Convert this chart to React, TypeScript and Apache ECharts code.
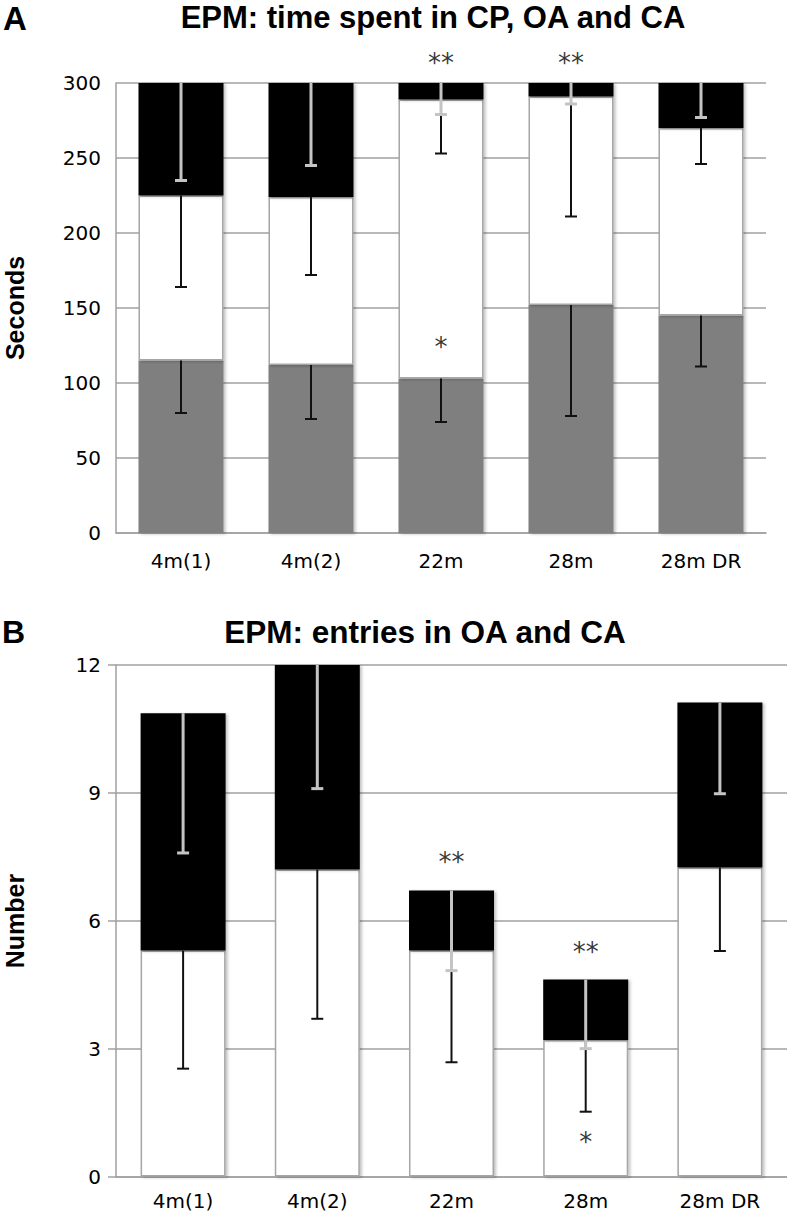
import React, { useEffect, useRef } from "react";
import * as echarts from "echarts";

// ---- data ----
const categories = ["4m(1)", "4m(2)", "22m", "28m", "28m DR"];

// Panel A: time spent (seconds), stacked CP (grey), OA (white), CA (black)
const timeCP = [115, 112, 103, 152, 145];
const timeOA = [110, 112, 186, 139, 125];
const timeCA = [75, 76, 11, 9, 30];
const timeErrCP = [35, 36, 29, 74, 34];
const timeErrOA = [61, 52, 36, 80, 24];
const timeErrCA = [65, 55, 21, 14, 23];
const secondsAxis = { min: 0, max: 300, step: 50 };

// Panel B: entries (number), stacked OA (white), CA (black)
const entryOA = [5.3, 7.2, 5.3, 3.2, 7.25];
const entryCA = [5.57, 4.8, 1.41, 1.42, 3.87];
const entryErrOA = [2.77, 3.5, 2.62, 1.68, 1.96];
const entryErrCA = [3.28, 2.9, 1.88, 1.62, 2.14];
const numberAxis = { min: 0, max: 12, step: 3 };

// significance marks
const starCatsA = ["22m", "28m", "22m"];
const starValsA = [316.8, 316.8, 127.4];
const starTextA = ["**", "**", "*"];
const starCatsB = ["22m", "28m", "28m"];
const starValsB = [7.5, 5.38, 0.93];
const starTextB = ["**", "**", "*"];

const GRID = "#a0a0a0";
const TICK_FONT = "DejaVu Sans";
const TITLE_FONT = "Liberation Sans";

function errData(bases: number[][], err: number[]) {
  return err.map((e, i) => {
    const top = bases.reduce((s, arr) => s + arr[i], 0);
    return [i, top, top - e];
  });
}

function errSeries(
  data: number[][],
  xi: number,
  color: string,
  width: number,
  z: number
) {
  return {
    type: "custom",
    xAxisIndex: xi,
    yAxisIndex: xi,
    z,
    silent: true,
    clip: false,
    data,
    renderItem: (params: any, api: any) => {
      const x = api.value(0);
      const hi = api.value(1);
      const lo = api.value(2);
      const p1 = api.coord([x, hi]);
      const p2 = api.coord([x, lo]);
      const half = 6;
      return {
        type: "group",
        children: [
          {
            type: "line",
            shape: { x1: p1[0], y1: p1[1], x2: p2[0], y2: p2[1] },
            style: { stroke: color, lineWidth: width },
          },
          {
            type: "line",
            shape: { x1: p2[0] - half, y1: p2[1], x2: p2[0] + half, y2: p2[1] },
            style: { stroke: color, lineWidth: width },
          },
        ],
      };
    },
  };
}

function starSeries(cats: string[], vals: number[], texts: string[], xi: number) {
  return {
    type: "scatter",
    xAxisIndex: xi,
    yAxisIndex: xi,
    symbolSize: 1,
    itemStyle: { color: "rgba(0,0,0,0)" },
    clip: false,
    silent: true,
    z: 10,
    data: cats.map((c, i) => [c, vals[i]]),
    label: {
      show: true,
      position: "inside",
      offset: [0, 5],
      formatter: (p: any) => texts[p.dataIndex],
      fontFamily: TICK_FONT,
      fontSize: 26,
      color: "#000",
    },
  };
}

const shadow = {
  shadowColor: "rgba(0,0,0,0.25)",
  shadowBlur: 3,
  shadowOffsetX: 2,
  shadowOffsetY: 1,
};

function barSeries(data: number[], xi: number, color: string, border: boolean) {
  return {
    type: "bar",
    xAxisIndex: xi,
    yAxisIndex: xi,
    stack: "s" + xi,
    barWidth: 85,
    data,
    z: 2,
    silent: true,
    itemStyle: {
      color,
      borderColor: border ? "#a6a6a6" : color,
      borderWidth: border ? 1.5 : 0,
      ...shadow,
    },
  };
}

function xAxisCfg(gi: number, margin: number) {
  return {
    type: "category",
    gridIndex: gi,
    data: categories,
    axisLine: { show: true, lineStyle: { color: GRID, width: 1.5 } },
    axisTick: { show: false },
    axisLabel: { margin, fontSize: 20, color: "#000", fontFamily: TICK_FONT },
  };
}

function yAxisCfg(gi: number, ax: { min: number; max: number; step: number }, ticks: boolean) {
  return {
    type: "value",
    gridIndex: gi,
    min: ax.min,
    max: ax.max,
    interval: ax.step,
    axisLine: { show: true, lineStyle: { color: GRID, width: 1.5 } },
    axisTick: { show: ticks, length: 8, lineStyle: { color: GRID, width: 1.5 } },
    splitLine: { show: true, lineStyle: { color: GRID, width: 1.5 } },
    axisLabel: { margin: 15, fontSize: 20, color: "#000", fontFamily: TICK_FONT },
  };
}

function boldText(text: string, x: number, y: number, size: number, align: string, rotation = 0) {
  return {
    type: "text",
    x,
    y,
    rotation,
    style: {
      text,
      fontFamily: TITLE_FONT,
      fontWeight: "bold",
      fontSize: size,
      fill: "#000",
      align,
      verticalAlign: "middle",
    },
  };
}

export default function App() {
  const ref = useRef<HTMLDivElement>(null);

  useEffect(() => {
    document.body.style.margin = "0";
    if (!ref.current) return;
    const chart = echarts.init(ref.current, undefined, { renderer: "svg" });

    const option: any = {
      animation: false,
      backgroundColor: "#fff",
      grid: [
        { left: 116, top: 83, width: 650, height: 450 },
        { left: 116, top: 665, width: 671, height: 511.5 },
      ],
      xAxis: [xAxisCfg(0, 18), xAxisCfg(1, 14)],
      yAxis: [yAxisCfg(0, secondsAxis, false), yAxisCfg(1, numberAxis, true)],
      graphic: [
        boldText("A", 3, 18.5, 33, "left"),
        boldText("EPM: time spent in CP, OA and CA", 433, 17.5, 31, "center"),
        boldText("B", 2, 632, 32, "left"),
        boldText("EPM: entries in OA and CA", 425, 631.7, 31.5, "center"),
        boldText("Seconds", 15, 308, 25, "center", Math.PI / 2),
        boldText("Number", 15, 921, 25, "center", Math.PI / 2),
      ],
      series: [
        barSeries(timeCP, 0, "#7f7f7f", false),
        barSeries(timeOA, 0, "#ffffff", true),
        barSeries(timeCA, 0, "#000000", false),
        errSeries(errData([timeCP], timeErrCP), 0, "#111", 2, 5),
        errSeries(errData([timeCP, timeOA], timeErrOA), 0, "#111", 2, 5),
        errSeries(errData([timeCP, timeOA, timeCA], timeErrCA), 0, "#c4c4c4", 3, 6),
        starSeries(starCatsA, starValsA, starTextA, 0),

        barSeries(entryOA, 1, "#ffffff", true),
        barSeries(entryCA, 1, "#000000", false),
        errSeries(errData([entryOA], entryErrOA), 1, "#111", 2, 5),
        errSeries(errData([entryOA, entryCA], entryErrCA), 1, "#c4c4c4", 3, 6),
        starSeries(starCatsB, starValsB, starTextB, 1),
      ],
    };

    chart.setOption(option);
    return () => chart.dispose();
  }, []);

  return <div ref={ref} style={{ width: 787, height: 1212 }} />;
}
